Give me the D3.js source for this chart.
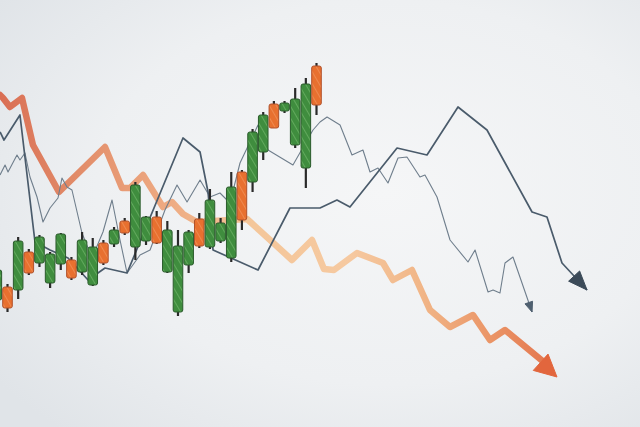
<!DOCTYPE html>
<html>
<head>
<meta charset="utf-8">
<script src="https://cdn.jsdelivr.net/npm/d3@7"></script>
<style>
html,body{margin:0;padding:0;background:#eceef0;overflow:hidden;}
svg{display:block;}
</style>
</head>
<body>
<svg id="chart" width="640" height="427"></svg>
<script>
// ---- Candlestick data (index, open, close, high, low) ----
const candleIndex = d3.range(-1, 30);
const opens  = [25, 28.25, 27.5, 37, 34.25, 29.25, 34, 35, 32, 28.75, 39.25, 39, 44.75, 38.25, 39.75, 45.75, 32, 22, 33.75, 45.25, 38.25, 39.75, 35.5, 57, 54.5, 62, 74, 72.25, 63.75, 58, 83.5];
const closes = [32.5, 23, 39.75, 31.75, 40.75, 36.5, 41.5, 30.5, 40, 38.25, 34.25, 42.5, 41.75, 53.75, 45.75, 39.25, 42.5, 38.5, 42, 38.5, 50, 44.25, 53.25, 45, 67, 71.25, 68, 74.25, 75.25, 79, 73.75];
const highs  = [33.75, 29, 40.75, 37.75, 41.25, 37, 41.75, 35.75, 42, 40.5, 40, 43.25, 45.5, 54.5, 46, 47.25, 44.75, 42.5, 42.5, 46.75, 52.75, 45.5, 57, 57.5, 67.75, 72, 74.75, 74.75, 78, 80.5, 84.25];
const lows   = [23.75, 22, 25.25, 31.25, 33.25, 28, 32.5, 30, 31.25, 28.5, 33.75, 38.25, 41.25, 35, 38.75, 39, 31.75, 21, 31.75, 38, 37.75, 39.25, 34.5, 42.5, 52, 60, 68, 71.75, 63, 53, 71.25];

// ---- Trend line data (step, value) ----
const orangeT = [-0.70, -0.42, 0.23, 1.36, 2.39, 4.83, 9.15, 10.75, 11.50, 12.72, 14.59, 15.44, 16.47, 17.78, 22.48, 26.70, 28.58, 29.70, 30.64, 32.80, 35.24, 36.18, 37.96, 39.65, 41.53, 43.69, 45.28, 46.69, 51.57];
const orangeV = [76.25, 75.5, 73.25, 75.5, 63.75, 52, 63.25, 53, 53, 56.25, 48.25, 49.5, 46.5, 44.5, 45.25, 35, 40, 32.75, 32.5, 36.75, 34.25, 30, 32.5, 22.5, 18.25, 21.25, 15, 17.5, 5.75];

const darkT = [-0.70, -0.33, 1.17, 2.58, 3.99, 5.68, 7.56, 9.15, 11.22, 16.47, 18.07, 18.82, 19.29, 23.51, 26.51, 29.33, 30.92, 32.14, 36.56, 39.37, 42.28, 45.0, 49.23, 50.63, 52.04, 54.39];
const darkV = [67, 65, 71.25, 39.5, 37.5, 35.5, 30, 33, 31.75, 65.5, 62, 52, 37.5, 32.5, 48, 48, 50, 48.25, 63, 61.25, 73.25, 67.5, 47, 45.75, 34.25, 27.5];

const thinT = [-0.70, -0.23, 0.05, 0.89, 1.17, 1.64, 2.11, 2.77, 3.33, 3.99, 4.74, 5.11, 5.58, 6.05, 6.99, 7.93, 8.96, 9.81, 10.56, 11.22, 12.44, 13.38, 14.78, 15.91, 16.85, 18.07, 19.01, 19.94, 20.88, 21.82, 23.51, 24.45, 26.79, 28.67, 29.33, 29.99, 31.21, 32.33, 33.36, 34.02, 34.77, 35.71, 36.65, 37.49, 38.71, 39.18, 40.31, 41.53, 43.22, 43.88, 45.10, 45.57, 46.22, 46.69, 47.44, 49.23];
const thinV = [56.25, 58.75, 57, 61.25, 60, 61.75, 55.75, 50.75, 44.5, 48, 50.5, 55.5, 53.25, 52.5, 41.75, 35.5, 42, 50, 40, 31.75, 36.25, 37.5, 47.5, 53.75, 49.5, 55, 50.75, 51.75, 49.25, 59.25, 68.75, 62.5, 58.75, 67.5, 69.5, 70.75, 68.75, 61.25, 62.5, 57, 58, 54.25, 60.5, 60.75, 55.75, 56.25, 50.75, 40, 34.5, 37.5, 27, 27.5, 26.75, 34.25, 35.75, 22];

const W = 640, H = 427;
const svg = d3.select("#chart");
const defs = svg.append("defs");

const x = d3.scaleLinear().domain([0, 29]).range([7.5, 316.5]);
const y = d3.scaleLinear().domain([0, 100]).range([400, 0]);
const bodyW = (x(1) - x(0)) * 0.9;

// background
const bg = defs.append("radialGradient").attr("id", "bg")
  .attr("cx", "60%").attr("cy", "45%").attr("r", "75%");
bg.append("stop").attr("offset", "0%").attr("stop-color", "#f5f6f7");
bg.append("stop").attr("offset", "60%").attr("stop-color", "#eef0f2");
bg.append("stop").attr("offset", "100%").attr("stop-color", "#e0e4e8");
svg.append("rect").attr("width", W).attr("height", H).attr("fill", "url(#bg)");

// hatch patterns for hand-drawn look
function hatch(id, base, streak) {
  const p = defs.append("pattern").attr("id", id)
    .attr("patternUnits", "userSpaceOnUse").attr("width", 6).attr("height", 6)
    .attr("patternTransform", "rotate(-30)");
  p.append("rect").attr("width", 6).attr("height", 6).attr("fill", base);
  p.append("rect").attr("width", 1).attr("height", 6).attr("fill", streak).attr("opacity", 0.45);
}
hatch("hGreen", "#3f8d3e", "#8ccc84");
hatch("hOrange", "#e8702f", "#f7a876");

// orange gradient
const og = defs.append("linearGradient").attr("id", "og")
  .attr("gradientUnits", "userSpaceOnUse").attr("x1", 0).attr("y1", 0).attr("x2", 560).attr("y2", 0);
[[0, "#d9684c"], [0.12, "#e0835f"], [0.3, "#eea77c"], [0.45, "#f4c495"], [0.62, "#f6c79c"], [0.75, "#f1b382"], [0.88, "#ea8f5e"], [1, "#e26a42"]]
  .forEach(([o, c]) => og.append("stop").attr("offset", o).attr("stop-color", c));

const line = d3.line().x(d => x(d[0])).y(d => y(d[1])).curve(d3.curveLinear);
const zip = (a, b) => a.map((v, i) => [v, b[i]]);

function arrowHead(pts, len, half, fill) {
  const n = pts.length;
  const tip = [x(pts[n - 1][0]), y(pts[n - 1][1])];
  const prev = [x(pts[n - 2][0]), y(pts[n - 2][1])];
  const dx = tip[0] - prev[0], dy = tip[1] - prev[1];
  const L = Math.hypot(dx, dy), ux = dx / L, uy = dy / L;
  const bx = tip[0] - ux * len, by = tip[1] - uy * len;
  const a = [bx - uy * half, by + ux * half], b = [bx + uy * half, by - ux * half];
  svg.append("path").attr("d", "M" + tip + "L" + a + "L" + b + "Z")
    .attr("fill", fill).attr("stroke", fill).attr("stroke-width", 1).attr("stroke-linejoin", "round");
}

// orange thick line
const orangePts = zip(orangeT, orangeV);
svg.append("path").attr("d", line(orangePts.slice(0, -1).concat([[orangeT[orangeT.length - 1] - 0.9, orangeV[orangeV.length - 1] + 3]])))
  .attr("fill", "none").attr("stroke", "url(#og)").attr("stroke-width", 6.5)
  .attr("stroke-linejoin", "round").attr("stroke-linecap", "round").attr("opacity", 0.95);
arrowHead(orangePts, 22, 11, "#e2663d");

// thin gray line
const thinPts = zip(thinT, thinV);
svg.append("path").attr("d", line(thinPts))
  .attr("fill", "none").attr("stroke", "#6f7e8c").attr("stroke-width", 1.1).attr("stroke-linejoin", "round");
arrowHead(thinPts, 10, 4, "#4f6070");

// dark line
const darkPts = zip(darkT, darkV);
svg.append("path").attr("d", line(darkPts))
  .attr("fill", "none").attr("stroke", "#4a5b6b").attr("stroke-width", 1.7).attr("stroke-linejoin", "round");
arrowHead(darkPts, 19, 7.5, "#3b4a58");

// candles
const candles = candleIndex.map((t, i) => ({ t, o: opens[i], c: closes[i], h: highs[i], l: lows[i] }));
const g = svg.append("g");
g.selectAll("line.wick").data(candles).join("line").attr("class", "wick")
  .attr("x1", d => x(d.t)).attr("x2", d => x(d.t))
  .attr("y1", d => y(d.h)).attr("y2", d => y(d.l))
  .attr("stroke", "#2a2a2a").attr("stroke-width", 2.2);
g.selectAll("rect.body").data(candles).join("rect").attr("class", "body")
  .attr("x", d => x(d.t) - bodyW / 2).attr("width", bodyW)
  .attr("y", d => y(Math.max(d.o, d.c)))
  .attr("height", d => Math.max(2, Math.abs(y(d.o) - y(d.c))))
  .attr("rx", 2)
  .attr("fill", d => d.c >= d.o ? "url(#hGreen)" : "url(#hOrange)")
  .attr("stroke", d => d.c >= d.o ? "#2a5a2b" : "#b0502a")
  .attr("stroke-width", 1);
</script>
</body>
</html>
